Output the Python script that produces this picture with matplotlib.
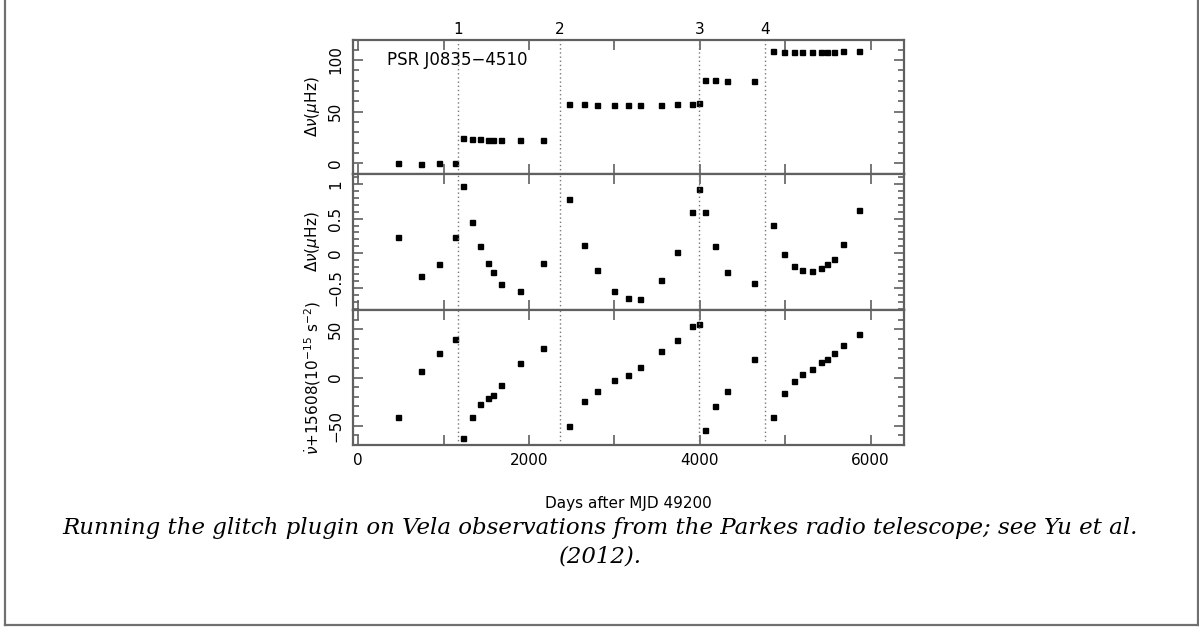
# ------------------------------------------------
# IMPORTING LIBRARY
import numpy as np
import matplotlib
matplotlib.use('Agg')
from matplotlib import pyplot as plt
from matplotlib.lines import Line2D
from matplotlib.ticker import MultipleLocator, FuncFormatter
from matplotlib.transforms import blended_transform_factory

# ------------------------------------------------
# DATA
days = [469, 734, 943, 1129,
        1226, 1335, 1426, 1516, 1574, 1674, 1897, 2166,
        2467, 2643, 2792, 3001, 3162, 3295, 3545, 3732, 3904, 3986,
        4056, 4173, 4321, 4630,
        4856, 4988, 5098, 5199, 5316, 5422, 5492, 5567, 5676, 5863]

dnu_step = [0.3, -0.3, 0.0, 0.3,
            24.2, 23.6, 23.2, 22.9, 22.6, 22.6, 22.3, 22.6,
            57.7, 57.0, 56.7, 56.5, 56.4, 56.4, 56.5, 57.0, 57.7, 58.0,
            80.9, 80.2, 79.9, 79.6,
            108.7, 108.0, 108.0, 108.0, 108.0, 108.0, 108.0, 108.0, 108.4, 108.7]

dnu_resid = [0.24, -0.33, -0.16, 0.24,
             0.97, 0.45, 0.11, -0.14, -0.27, -0.45, -0.54, -0.14,
             0.78, 0.12, -0.24, -0.55, -0.64, -0.66, -0.39, 0.02, 0.60, 0.93,
             0.60, 0.11, -0.27, -0.43,
             0.41, -0.01, -0.18, -0.24, -0.26, -0.22, -0.16, -0.08, 0.13, 0.62]

nudot = [-41, 6.6, 24.9, 39.8,
         -62.5, -40.8, -27.6, -21, -17.9, -7.9, 15.2, 30.1,
         -49.8, -24.5, -13.5, -2.8, 3.1, 11.1, 28, 39.4, 53.3, 55.5,
         -54.6, -29.4, -14.1, 19.7,
         -40.5, -15.6, -3.8, 3.8, 9, 16, 19.1, 25.3, 33.9, 44.6]

glitch_days = [1171, 2362, 3993, 4759]
glitch_names = ['1', '2', '3', '4']

xticks = [0, 2000, 4000, 6000]
ylabels = [r'$\Delta\nu(\mu$Hz)', r'$\Delta\nu(\mu$Hz)',
           r'$\dot{\nu}$+15608(10$^{-15}$ s$^{-2}$)']

# ------------------------------------------------
# FIGURE
W, H = 1199, 627
fig = plt.figure(figsize=(W / 100, H / 100), dpi=100)
fig.patch.set_facecolor('white')

spine_col = '#606060'
left, right = 352.7 / W, 904.3 / W
edges = [40, 174.3, 310, 445]
axes = []
for i in range(3):
    top = 1 - edges[i] / H
    bot = 1 - edges[i + 1] / H
    ax = fig.add_axes([left, bot, right - left, top - bot])
    axes.append(ax)

ylims = [(-10.6, 119.4), (-0.82, 1.14), (-70, 70)]
ymaj = [50, 0.5, 50]
ymin = [10, 0.1, 10]
series = [dnu_step, dnu_resid, nudot]

def fmt(v, pos):
    s = '%g' % v
    return s.replace('-', '\u2212')

for i, ax in enumerate(axes):
    ax.plot(days, series[i], linestyle='none', marker='s', ms=3.6,
            color='black', mec='black')
    for g in glitch_days:
        ax.axvline(g, color='#777777', linestyle=(0, (1, 2)), lw=1)
    ax.set_xlim(-65, 6395)
    ax.set_ylim(*ylims[i])
    ax.xaxis.set_major_locator(MultipleLocator(1000))
    ax.yaxis.set_major_locator(MultipleLocator(ymaj[i]))
    ax.yaxis.set_minor_locator(MultipleLocator(ymin[i]))
    ax.yaxis.set_major_formatter(FuncFormatter(fmt))
    ax.tick_params(which='both', direction='in', top=True, right=True,
                   color=spine_col, width=1.2)
    ax.tick_params(which='major', length=7)
    ax.tick_params(which='minor', length=4)
    ax.tick_params(axis='x', which='minor', bottom=False, top=False)
    ax.tick_params(axis='y', labelsize=11, pad=7)
    for s in ax.spines.values():
        s.set_color(spine_col)
        s.set_linewidth(1.6)
    if i < 2:
        ax.tick_params(axis='x', labelbottom=False)
    for lab in ax.get_yticklabels():
        lab.set_rotation(90)
        lab.set_va('center')
        lab.set_ha('right')
    cy = 1 - (edges[i] + edges[i + 1]) / 2 / H
    fig.text(313 / W, cy, ylabels[i], rotation=90, ha='center', va='center',
             fontsize=11)

# bottom axis labels only at every 2000
axes[2].set_xticks(range(0, 7000, 1000))
axes[2].set_xticklabels([str(v) if v in xticks else '' for v in range(0, 7000, 1000)])
axes[2].tick_params(axis='x', labelsize=11, pad=6)
axes[2].set_xlabel('Days after MJD 49200', fontsize=11, labelpad=20)

axes[0].text(333, 100, 'PSR J0835\u22124510', fontsize=12, ha='left', va='center')

trans = blended_transform_factory(axes[0].transData, axes[0].transAxes)
for g, n in zip(glitch_days, glitch_names):
    axes[0].text(g, 1.025, n, transform=trans, ha='center', va='bottom', fontsize=11)

# ------------------------------------------------
# CAPTION + PAGE FRAME
cap_font = ['DejaVu Serif']
fig.text(0.5004, 1 - 528 / H,
         'Running the glitch plugin on Vela observations from the Parkes radio telescope; see Yu et al.',
         ha='center', va='center', fontsize=16.5, style='italic', family=cap_font)
fig.text(0.5004, 1 - 556 / H, '(2012).', ha='center', va='center',
         fontsize=16.5, style='italic', family=cap_font)

frame_col = '#707070'
fig.add_artist(Line2D([5 / W, 5 / W], [0.0032, 1], color=frame_col, lw=1.6))
fig.add_artist(Line2D([1197.5 / W, 1197.5 / W], [0.0032, 1], color=frame_col, lw=1.6))
fig.add_artist(Line2D([5 / W, 1197.5 / W], [0.0032, 0.0032], color=frame_col, lw=1.6))

fig.savefig('out.png', dpi=100, facecolor='white')
print('OK')
